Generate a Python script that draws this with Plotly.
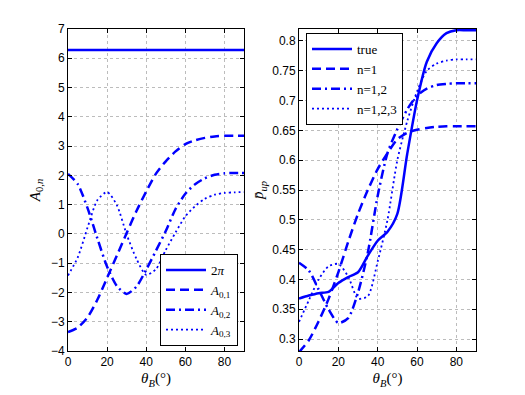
import plotly.graph_objects as go
from plotly.subplots import make_subplots

# 角度 (deg)
theta = [0, 5, 10, 15, 20, 25, 30, 35, 40, 45, 50, 55, 60, 65, 70, 75, 80, 85, 90]

# 左のグラフ: A_{0,n}
two_pi = [6.2832] * len(theta)
a01 = [-3.35, -3.2, -2.85, -2.25, -1.5, -0.74, 0.03, 0.78, 1.45, 2.06, 2.48, 2.82, 3.07, 3.2, 3.28, 3.33, 3.35, 3.35, 3.35]
a02 = [2.05, 1.7, 0.88, -0.15, -1.12, -1.78, -2.05, -1.8, -1.22, -0.57, 0.1, 0.85, 1.37, 1.7, 1.9, 2.02, 2.07, 2.08, 2.08]
a03 = [-1.42, -0.8, 0.22, 1.15, 1.43, 0.98, -0.02, -0.85, -1.4, -1.2, -0.55, 0.05, 0.6, 0.95, 1.2, 1.34, 1.4, 1.42, 1.43]

# 右のグラフ: p_up
p_true = [0.368, 0.373, 0.377, 0.379, 0.394, 0.404, 0.412, 0.44, 0.465, 0.48, 0.51, 0.61, 0.70, 0.765, 0.796, 0.813, 0.818, 0.818, 0.818]
p_n1 = [0.278, 0.298, 0.33, 0.367, 0.412, 0.463, 0.51, 0.55, 0.585, 0.612, 0.635, 0.646, 0.651, 0.654, 0.656, 0.657, 0.657, 0.657, 0.657]
p_n12 = [0.428, 0.415, 0.383, 0.35, 0.327, 0.335, 0.378, 0.445, 0.54, 0.612, 0.652, 0.685, 0.708, 0.72, 0.726, 0.728, 0.729, 0.729, 0.729]
p_n123 = [0.329, 0.365, 0.4, 0.422, 0.426, 0.405, 0.368, 0.372, 0.43, 0.50, 0.60, 0.665, 0.715, 0.75, 0.762, 0.767, 0.769, 0.769, 0.769]

left_names = ["2<i>π</i>", "<i>A</i><sub>0,1</sub>", "<i>A</i><sub>0,2</sub>", "<i>A</i><sub>0,3</sub>"]
right_names = ["true", "n=1", "n=1,2", "n=1,2,3"]
dashes = ["solid", "9px,5px", "9px,4px,2px,4px", "2px,3px"]
widths = [2.5, 2.5, 2.5, 1.8]

BLUE = "#0000ff"
SERIF = "Liberation Serif"
SANS = "Liberation Sans"

# ページの余白 (body margin 8px) を差し引く
OFF = 8
W, H = 525, 395

fig = make_subplots(rows=1, cols=2)

for name, ys, d, w in zip(left_names, [two_pi, a01, a02, a03], dashes, widths):
    fig.add_trace(go.Scatter(x=theta, y=ys, name=name, mode="lines",
                             line=dict(color=BLUE, width=w, dash=d,
                                       shape="spline", smoothing=0.7),
                             legend="legend"), row=1, col=1)

for name, ys, d, w in zip(right_names, [p_true, p_n1, p_n12, p_n123], dashes, widths):
    fig.add_trace(go.Scatter(x=theta, y=ys, name=name, mode="lines",
                             line=dict(color=BLUE, width=w, dash=d,
                                       shape="spline", smoothing=0.7),
                             legend="legend2"), row=1, col=2)

axis_style = dict(showline=True, linecolor="black", linewidth=1, mirror="ticks",
                  ticks="inside", ticklen=4, tickcolor="black", automargin=False,
                  showgrid=True, gridcolor="#bcbcbc", griddash="dot", gridwidth=1,
                  zeroline=False, tickfont=dict(family=SANS, size=12, color="black"))

fig.update_xaxes(**axis_style)
fig.update_yaxes(**axis_style)

xtitle = dict(text="<i>θ</i><sub><i>B</i></sub>(°)", font=dict(family=SERIF, size=15, color="black"), standoff=4)
fig.update_xaxes(range=[0, 90], tickvals=[0, 20, 40, 60, 80], title=xtitle)

fig.update_xaxes(domain=[(68 - OFF) / W, (244 - OFF) / W], row=1, col=1)
fig.update_xaxes(domain=[(299 - OFF) / W, (476 - OFF) / W], row=1, col=2)
fig.update_yaxes(domain=[1 - (351 - OFF) / H, 1 - (29 - OFF) / H])

fig.update_yaxes(range=[-4, 7], dtick=1, row=1, col=1,
                 title=dict(text="<i>A</i><sub>0,<i>n</i></sub>",
                            font=dict(family=SERIF, size=15, color="black"), standoff=6))
fig.update_yaxes(range=[0.28, 0.82], tickvals=[0.3, 0.35, 0.4, 0.45, 0.5, 0.55, 0.6, 0.65, 0.7, 0.75, 0.8],
                 ticktext=["0.3", "0.35", "0.4", "0.45", "0.5", "0.55", "0.6", "0.65", "0.7", "0.75", "0.8"],
                 row=1, col=2,
                 title=dict(text="<i>p̄</i><sub><i>up</i></sub>",
                            font=dict(family=SERIF, size=15, color="black"), standoff=4))

legend_style = dict(bgcolor="white", bordercolor="black", borderwidth=1,
                    font=dict(family=SERIF, size=13, color="black"),
                    tracegroupgap=0, itemwidth=40)

fig.update_layout(
    width=W, height=H,
    margin=dict(l=0, r=0, t=0, b=0),
    paper_bgcolor="white", plot_bgcolor="white",
    legend=dict(x=(238 - OFF) / W, y=1 - (346 - OFF) / H, xanchor="right", yanchor="bottom", **legend_style),
    legend2=dict(x=(306 - OFF) / W, y=1 - (33 - OFF) / H, xanchor="left", yanchor="top", **legend_style),
)

fig.write_html("out.html")
